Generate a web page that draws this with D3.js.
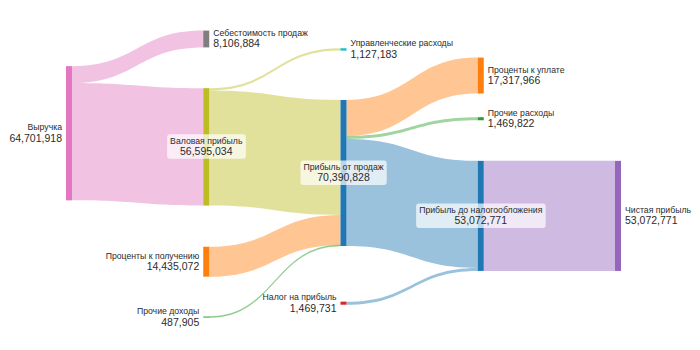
<!DOCTYPE html>
<html>
<head>
<meta charset="utf-8">
<script src="https://cdn.jsdelivr.net/npm/d3@7"></script>
<style>
  body { margin: 0; background: #fff; }
  text { font-family: "Liberation Sans", Arial, sans-serif; fill: #2b2b2b; }
</style>
</head>
<body>
<svg id="chart"></svg>
<script>
// data
const nodeNames = ["Выручка", "Себестоимость продаж", "Валовая прибыль", "Управленческие расходы",
  "Прибыль от продаж", "Проценты к получению", "Прочие доходы", "Налог на прибыль",
  "Проценты к уплате", "Прочие расходы", "Прибыль до налогообложения", "Чистая прибыль"];
const nodeColors = ["#e377c2", "#7f7f7f", "#bcbd22", "#17becf", "#1f77b4", "#ff7f0e",
  "#2ca02c", "#d62728", "#ff7f0e", "#2ca02c", "#1f77b4", "#9467bd"];
const linkSource = [0, 0, 2, 2, 5, 6, 4, 4, 4, 7, 10];
const linkTarget = [1, 2, 3, 4, 4, 4, 8, 9, 10, 10, 11];
const linkValues = [8106884, 56595034, 1127183, 55467851, 14435072, 487905,
  17317966, 1469822, 51603040, 1469731, 53072771];
const linkColors = ["#e377c2", "#e377c2", "#bcbd22", "#bcbd22", "#ff7f0e", "#2ca02c",
  "#ff7f0e", "#2ca02c", "#1f77b4", "#1f77b4", "#9467bd"];

// layout (column, relative vertical centre, label placement)
const nodeColumn = [0, 1, 1, 2, 2, 1, 1, 2, 3, 3, 3, 4];
const nodeY = [0.356, 0.031, 0.403, 0.067, 0.493, 0.799, 0.990, 0.942, 0.157, 0.306, 0.641, 0.641];
const labelSide = ["left", "right", "box", "right", "box", "left", "left", "left", "right", "right", "box", "right"];

const width = 700, height = 350;
const nodeWidth = 6;

const svg = d3.select("#chart").attr("width", width).attr("height", height);

const nodes = nodeNames.map((name, i) => ({
  name, color: nodeColors[i], col: nodeColumn[i], fy: nodeY[i], side: labelSide[i],
  inLinks: [], outLinks: []
}));
const links = linkValues.map((v, i) => ({
  source: nodes[linkSource[i]], target: nodes[linkTarget[i]], value: v, color: linkColors[i]
}));
links.forEach(l => { l.source.outLinks.push(l); l.target.inLinks.push(l); });
nodes.forEach(n => {
  n.value = Math.max(d3.sum(n.inLinks, l => l.value), d3.sum(n.outLinks, l => l.value));
});

const xScale = d3.scaleLinear().domain([0, 4]).range([66, 615]);
const yScale = d3.scaleLinear().domain([0, 1]).range([30, 320]);
const vScale = d3.scaleLinear().domain([0, d3.max(nodes, n => n.value)]).range([0, 146]);

nodes.forEach(n => {
  n.x0 = xScale(n.col);
  n.x1 = n.x0 + nodeWidth;
  const h = vScale(n.value);
  n.cy = yScale(n.fy);
  n.y0 = n.cy - h / 2;
  n.y1 = n.cy + h / 2;
});

// stack links on each node, ordered by the other end's position
nodes.forEach(n => {
  let y = n.y0;
  n.outLinks.sort((a, b) => a.target.cy - b.target.cy).forEach(l => {
    l.sy0 = y; l.width = vScale(l.value); y += l.width; l.sy1 = y;
  });
  y = n.y0;
  n.inLinks.sort((a, b) => a.source.cy - b.source.cy).forEach(l => {
    l.ty0 = y; y += vScale(l.value); l.ty1 = y;
  });
});

function linkPath(l) {
  const x0 = l.source.x1, x1 = l.target.x0;
  const xi = d3.interpolateNumber(x0, x1);
  const c0 = xi(0.5), c1 = xi(0.5);
  const p = d3.path();
  p.moveTo(x0, l.sy0);
  p.bezierCurveTo(c0, l.sy0, c1, l.ty0, x1, l.ty0);
  p.lineTo(x1, l.ty1);
  p.bezierCurveTo(c1, l.ty1, c0, l.sy1, x0, l.sy1);
  p.closePath();
  return p.toString();
}

svg.append("g").selectAll("path")
  .data(links)
  .join("path")
  .attr("d", linkPath)
  .attr("fill", d => d.color)
  .attr("fill-opacity", 0.45)
  .attr("stroke", d => d.color)
  .attr("stroke-opacity", d => d.width < 1.5 ? 0.45 : 0)
  .attr("stroke-width", 0.6);

svg.append("g").selectAll("rect")
  .data(nodes)
  .join("rect")
  .attr("x", d => d.x0)
  .attr("y", d => d.y0)
  .attr("width", nodeWidth)
  .attr("height", d => Math.max(1, d.y1 - d.y0))
  .attr("fill", d => d.color);

const fmt = d3.format(",");
const labels = svg.append("g").selectAll("g")
  .data(nodes)
  .join("g")
  .attr("transform", d => {
    if (d.side === "left") return `translate(${d.x0 - 4},${d.cy})`;
    if (d.side === "right") return `translate(${d.x1 + 4},${d.cy})`;
    return `translate(${(d.x0 + d.x1) / 2},${d.cy})`;
  });

labels.each(function(d) {
  const g = d3.select(this);
  const anchor = d.side === "left" ? "end" : d.side === "right" ? "start" : "middle";
  const rect = d.side === "box" ? g.append("rect") : null;
  const t = g.append("text").attr("text-anchor", anchor);
  t.append("tspan").attr("x", 0).attr("y", -3).attr("font-size", 8.7).text(d.name);
  t.append("tspan").attr("x", 0).attr("y", 8.5).attr("font-size", 10.5).text(fmt(d.value));
  if (rect) {
    const bb = t.node().getBBox();
    rect.attr("x", bb.x - 3).attr("y", bb.y - 1.5)
      .attr("width", bb.width + 6).attr("height", bb.height + 3)
      .attr("rx", 3)
      .attr("fill", "#fff").attr("fill-opacity", 0.7);
  }
});
</script>
</body>
</html>
